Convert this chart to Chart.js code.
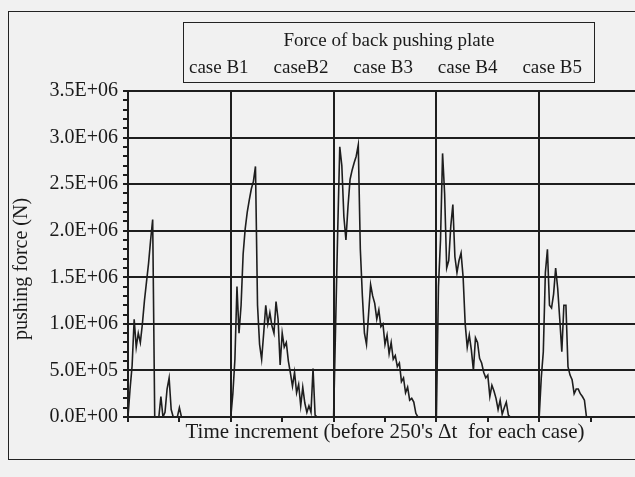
<!DOCTYPE html>
<html>
<head>
<meta charset="utf-8">
<script src="https://cdn.jsdelivr.net/npm/chart.js@4.4.1/dist/chart.umd.min.js"></script>
<style>
  body { margin: 0; width: 635px; height: 477px; overflow: hidden; background: #f1f1f1; position: relative;
         font-family: "Liberation Serif", "DejaVu Serif", serif; color: #1a1a1a; }
  #frame { position: absolute; left: 8px; top: 11px; width: 700px; height: 447px; border: 1.5px solid #222; }
  #wrap { position: absolute; left: 0; top: 0; width: 660px; height: 477px; }
  #legendBox { position: absolute; left: 183px; top: 22px; width: 410px; height: 59px; border: 1.5px solid #222; }
  #legendTitle { position: absolute; left: 0; right: 0; top: 6px; text-align: center; font-size: 19px; }
  #legendItems { position: absolute; left: 5px; right: 12px; top: 33px; display: flex; justify-content: space-between; font-size: 19px; }
</style>
</head>
<body>
<div id="frame"></div>
<div id="wrap"><canvas id="chart" width="660" height="477"></canvas></div>
<div id="legendBox">
  <div id="legendTitle">Force of back pushing plate</div>
  <div id="legendItems"></div>
</div>
<script>
// one sample every 5 time increments, 50 samples (steps 0..245) per case
// force values in units of 1E+06 N
const caseNames = ['case B1', 'caseB2', 'case B3', 'case B4', 'case B5'];
const stepsPerCase = 250;
const sampleStep = 5;

const forceB1 = [0, 0.3, 0.55, 1.05, 0.75, 0.9, 0.8, 1.0, 1.25, 1.45,
                 1.65, 1.9, 2.12, 0, 0, 0, 0.22, 0, 0.05, 0.3,
                 0.42, 0.08, 0, 0, 0, 0.1, 0, 0, 0, 0,
                 0, 0, 0, 0, 0, 0, 0, 0, 0, 0,
                 0, 0, 0, 0, 0, 0, 0, 0, 0, 0];
const forceB2 = [0, 0.25, 0.62, 1.4, 0.9, 1.2, 1.75, 2.02, 2.2, 2.33,
                 2.45, 2.53, 2.69, 1.2, 0.78, 0.62, 0.9, 1.2, 1.0, 1.12,
                 0.98, 0.9, 1.24, 1.05, 0.56, 0.9, 0.75, 0.8, 0.6, 0.47,
                 0.33, 0.48, 0.26, 0.35, 0.12, 0.32, 0.15, 0.05, 0.12, 0.05,
                 0.52, 0.02, 0, 0, 0, 0, 0, 0, 0, 0];
const forceB3 = [0, 1.0, 2.0, 2.9, 2.7, 2.15, 1.9, 2.26, 2.55, 2.65,
                 2.73, 2.8, 2.92, 1.8, 1.3, 0.9, 0.78, 1.1, 1.42, 1.3,
                 1.22, 1.05, 1.15, 0.97, 1.0, 0.78, 0.88, 0.68, 0.8, 0.62,
                 0.66, 0.54, 0.58, 0.38, 0.42, 0.26, 0.32, 0.18, 0.2, 0.16,
                 0.04, 0, 0, 0, 0, 0, 0, 0, 0, 0];
const forceB4 = [0, 1.4, 1.9, 2.83, 2.4, 1.6, 1.68, 2.05, 2.28, 1.72,
                 1.55, 1.68, 1.76, 1.5, 1.0, 0.75, 0.88, 0.72, 0.5, 0.85,
                 0.8, 0.63, 0.58, 0.48, 0.42, 0.45, 0.22, 0.34, 0.28, 0.2,
                 0.08, 0.18, 0.03, 0.1, 0.16, 0.02, 0, 0, 0, 0,
                 0, 0, 0, 0, 0, 0, 0, 0, 0, 0];
const forceB5 = [0, 0.42, 0.7, 1.55, 1.8, 1.2, 1.17, 1.32, 1.6, 1.38,
                 1.05, 0.7, 1.2, 1.2, 0.54, 0.45, 0.4, 0.25, 0.3, 0.3,
                 0.25, 0.22, 0.18, 0, 0, 0, 0, 0, 0, 0,
                 0, 0, 0, 0, 0, 0, 0, 0, 0, 0,
                 0, 0, 0, 0, 0, 0, 0, 0, 0, 0];

const yMax = 3.5e6;
const yMajor = 5e5;
const yMinor = 1e5;
const xMinor = 125;

const ink = '#1e1e1e';

// legend text
const items = document.getElementById('legendItems');
caseNames.forEach(name => {
    const s = document.createElement('span');
    s.textContent = name;
    items.appendChild(s);
});

// build one continuous trace, cases placed one after another
const points = [];
[forceB1, forceB2, forceB3, forceB4, forceB5].forEach((arr, c) => {
    arr.forEach((v, i) => points.push({ x: c * stepsPerCase + i * sampleStep, y: v * 1e6 }));
});

function sci(v) {
    if (v === 0) return '0.0E+00';
    const e = Math.floor(Math.log10(v) + 1e-9);
    const m = v / Math.pow(10, e);
    return m.toFixed(1) + 'E+' + String(e).padStart(2, '0');
}

const isMajorY = v => Math.round(v / yMinor) % Math.round(yMajor / yMinor) === 0;

const ctx = document.getElementById('chart').getContext('2d');
new Chart(ctx, {
    type: 'line',
    data: {
        datasets: [{
            data: points,
            borderColor: ink,
            borderWidth: 1.6,
            pointRadius: 0,
            tension: 0,
            fill: false
        }]
    },
    options: {
        responsive: false,
        animation: false,
        events: [],
        layout: { padding: { left: 8, top: 91, right: 18, bottom: 30 } },
        plugins: { legend: { display: false }, tooltip: { enabled: false } },
        scales: {
            x: {
                type: 'linear',
                min: 0,
                max: stepsPerCase * caseNames.length,
                ticks: { stepSize: xMinor, autoSkip: false, maxRotation: 0, callback: () => '' },
                grid: {
                    color: c => (c.tick && c.tick.value % stepsPerCase === 0) ? ink : 'rgba(0,0,0,0)',
                    lineWidth: 2,
                    tickColor: ink,
                    tickLength: 5
                },
                border: { color: ink, width: 2 },
                title: {
                    display: true,
                    text: "Time increment (before 250's \u0394t  for each case)",
                    color: '#1a1a1a',
                    font: { family: 'Liberation Serif', size: 21 },
                    padding: 2
                },
                afterFit: s => { s.height = 30; }
            },
            y: {
                min: 0,
                max: yMax,
                ticks: {
                    stepSize: yMinor,
                    autoSkip: false,
                    padding: 5,
                    color: '#1a1a1a',
                    font: { family: 'Liberation Serif', size: 20 },
                    callback: v => isMajorY(v) ? sci(v) : ''
                },
                grid: {
                    color: c => (c.tick && isMajorY(c.tick.value)) ? ink : 'rgba(0,0,0,0)',
                    lineWidth: 2,
                    tickColor: ink,
                    tickLength: 5
                },
                border: { color: ink, width: 2 },
                title: {
                    display: true,
                    text: 'pushing force (N)\u2002\u2002\u2002',
                    color: '#1a1a1a',
                    font: { family: 'Liberation Serif', size: 20 },
                    padding: 2
                },
                afterFit: s => { s.width = 120; }
            }
        }
    }
});
</script>
</body>
</html>
